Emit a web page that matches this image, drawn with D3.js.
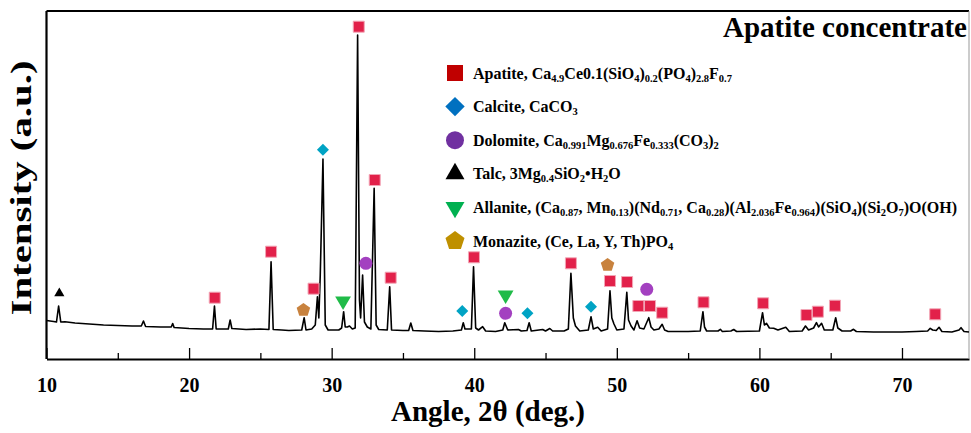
<!DOCTYPE html>
<html>
<head>
<meta charset="utf-8">
<script src="https://cdn.jsdelivr.net/npm/d3@7"></script>
<style>
  body { margin: 0; background: #fff; }
  svg { display: block; font-family: "Liberation Serif", "Times New Roman", serif; font-weight: bold; }
</style>
</head>
<body>
<div id="chart"></div>
<script>

//XRD trace: [2theta (deg.), intensity (a.u.)].
const trace = [
  [10.0, 385], [10.5, 375], [10.7, 370], [10.85, 530], [11.0, 370], [11.3, 372], [12.0, 360],
  [13.0, 350], [14.0, 340], [15.0, 335], [16.0, 330], [16.65, 330], [16.8, 380], [16.95, 325],
  [18.0, 320], [18.75, 320], [18.85, 355], [18.95, 315], [20.0, 305], [21.0, 300], [21.65, 300],
  [21.78, 530], [21.9, 300], [22.75, 300], [22.88, 390], [23.0, 305], [24.0, 295], [25.0, 300],
  [25.6, 295], [25.75, 973], [25.9, 295], [26.5, 290], [27.0, 285], [27.9, 290], [28.07, 413],
  [28.2, 290], [28.6, 300], [28.85, 340], [29.0, 623], [29.1, 410], [29.2, 840], [29.39, 2000],
  [29.55, 340], [29.75, 290], [30.5, 290], [30.7, 310], [30.84, 473], [30.95, 320], [31.1, 320],
  [31.25, 330], [31.45, 300], [31.65, 310], [31.82, 3240], [31.95, 590], [32.03, 410], [32.17, 840],
  [32.3, 370], [32.5, 320], [32.75, 300], [32.98, 1707], [33.12, 340], [33.3, 295], [33.9, 290],
  [34.07, 723], [34.2, 290], [35.0, 285], [35.4, 285], [35.55, 360], [35.7, 285], [36.5, 280],
  [37.5, 275], [38.5, 280], [39.1, 290], [39.23, 363], [39.35, 300], [39.8, 300], [39.95, 923],
  [40.1, 310], [40.3, 290], [40.59, 323], [40.8, 280], [41.5, 275], [42.0, 290], [42.14, 363],
  [42.35, 290], [43.1, 295], [43.3, 280], [43.7, 285], [43.85, 363], [44.0, 280], [44.8, 295],
  [45.0, 280], [45.3, 305], [45.5, 280], [46.3, 280], [46.6, 300], [46.78, 857], [46.95, 410],
  [47.1, 330], [47.4, 280], [48.0, 290], [48.19, 423], [48.35, 300], [48.66, 317], [48.9, 280],
  [49.35, 300], [49.52, 683], [49.65, 410], [49.8, 350], [50.0, 290], [50.5, 300], [50.7, 667],
  [50.82, 390], [51.0, 330], [51.2, 290], [51.42, 383], [51.6, 310], [51.9, 300], [52.24, 413],
  [52.4, 320], [52.6, 290], [52.95, 300], [53.18, 347], [53.35, 290], [53.6, 275], [55.0, 275],
  [55.85, 280], [56.04, 473], [56.15, 320], [56.3, 280], [57.1, 280], [57.26, 297], [57.4, 275],
  [58.0, 280], [58.2, 295], [58.4, 275], [60.0, 280], [60.22, 463], [60.35, 340], [60.5, 357],
  [60.7, 310], [61.0, 307], [61.3, 290], [61.85, 317], [62.1, 275], [63.0, 280], [63.23, 330],
  [63.45, 290], [63.8, 310], [64.0, 363], [64.15, 320], [64.36, 357], [64.55, 290], [65.15, 290],
  [65.35, 413], [65.5, 310], [65.8, 280], [66.4, 280], [66.6, 297], [66.8, 275], [68.0, 270],
  [70.0, 270], [71.0, 275], [71.8, 280], [71.98, 307], [72.15, 290], [72.4, 285], [72.6, 317],
  [72.8, 275], [73.5, 270], [74.0, 290], [74.14, 313], [74.35, 275], [74.7, 270]
];

//Phase markers: [2theta, marker height].
const apatitePeaks = [
  [21.8, 613], [25.75, 1073], [28.73, 703], [31.9, 3323], [33.02, 1790], [34.14, 813],
  [39.98, 1017], [46.78, 957], [49.52, 780], [50.72, 770], [51.51, 530], [52.33, 530],
  [53.18, 463], [56.08, 567], [60.26, 557], [63.3, 440], [64.1, 473], [65.3, 533], [72.33, 447]
];
const calcitePeaks = [[29.39, 2093], [39.16, 480], [43.73, 457], [48.19, 523]];
const dolomitePeaks = [[32.4, 957], [42.2, 457], [52.1, 697]];
const talcPeaks = [[10.9, 657]];
const allanitePeaks = [[30.8, 580], [42.2, 640]];
const monazitePeaks = [[28.02, 490], [49.35, 940]];

//Legend texts, _{..} marks a subscript.
const phaseLabels = [
  "Apatite, Ca_{4.9}Ce0.1(SiO_{4})_{0.2}(PO_{4})_{2.8}F_{0.7}",
  "Calcite, CaCO_{3}",
  "Dolomite, Ca_{0.991}Mg_{0.676}Fe_{0.333}(CO_{3})_{2}",
  "Talc, 3Mg_{0.4}SiO_{2}•H_{2}O",
  "Allanite, (Ca_{0.87}, Mn_{0.13})(Nd_{0.71}, Ca_{0.28})(Al_{2.036}Fe_{0.964})(SiO_{4})(Si_{2}O_{7})O(OH)",
  "Monazite, (Ce, La, Y, Th)PO_{4}"
];

const xTicks = [10, 15, 20, 25, 30, 35, 40, 45, 50, 55, 60, 65, 70];

//Set up the dimensions of the svg container.
const width = 971;
const height = 433;
const margin = { top: 11, right: 2, bottom: 74, left: 46.5 };

const svg = d3.select("#chart")
  .append("svg")
  .attr("width", width)
  .attr("height", height);

//Scales.
const xScale = d3.scaleLinear()
  .domain([10, 74.7])
  .range([margin.left, width - margin.right]);

const yScale = d3.scaleLinear()
  .domain([0, 3480])
  .range([height - margin.bottom, margin.top]);

//Pentagon symbol for monazite.
const symbolPentagon = {
  draw(context, size) {
    const r = Math.sqrt(size / 2.378);
    for (let i = 0; i < 5; i++) {
      const a = -Math.PI / 2 + i * 2 * Math.PI / 5;
      if (i === 0) context.moveTo(r * Math.cos(a), r * Math.sin(a));
      else context.lineTo(r * Math.cos(a), r * Math.sin(a));
    }
    context.closePath();
  }
};

//Phase table built from the arrays above.
const phases = [
  { peaks: apatitePeaks, type: d3.symbolSquare, rot: 0, size: 121, legSize: 256, color: "#e2214a", stroke: "#f2a6b6", legColor: "#c00000" },
  { peaks: calcitePeaks, type: d3.symbolSquare, rot: 45, size: 72, legSize: 188, color: "#00a3c4", stroke: "none", legColor: "#0070c0" },
  { peaks: dolomitePeaks, type: d3.symbolCircle, rot: 0, size: 133, legSize: 254, color: "#a340c0", stroke: "none", legColor: "#7030a0" },
  { peaks: talcPeaks, type: d3.symbolTriangle, rot: 0, size: 45, legSize: 156, color: "#000", stroke: "none", legColor: "#000" },
  { peaks: allanitePeaks, type: d3.symbolTriangle, rot: 180, size: 108, legSize: 156, color: "#20bb48", stroke: "none", legColor: "#00b050" },
  { peaks: monazitePeaks, type: symbolPentagon, rot: 0, size: 120, legSize: 238, color: "#c8823e", stroke: "none", legColor: "#bf9000" }
];
phases.forEach((p, i) => p.label = phaseLabels[i]);

//Bottom axis with inward ticks.
const xAxis = svg.append("g")
  .attr("transform", `translate(0,${height - margin.bottom})`)
  .call(d3.axisBottom(xScale)
    .tickValues(xTicks)
    .tickSizeInner(-11)
    .tickSizeOuter(0)
    .tickPadding(19)
    .tickFormat(d => d % 10 === 0 ? d : ""));

xAxis.select(".domain").attr("stroke-width", 2.2);
xAxis.selectAll(".tick line")
  .attr("stroke-width", 1.3)
  .attr("y2", d => d % 10 === 0 ? -11 : -6);
xAxis.selectAll(".tick text")
  .attr("font-size", 20)
  .attr("font-family", "Liberation Serif")
  .attr("font-weight", "bold")
  .attr("fill", "#000");

//Frame lines.
svg.append("line")
  .attr("x1", margin.left).attr("x2", margin.left)
  .attr("y1", margin.top).attr("y2", height - margin.bottom)
  .attr("stroke", "#000").attr("stroke-width", 2.2);
svg.append("line")
  .attr("x1", margin.left).attr("x2", width - margin.right)
  .attr("y1", margin.top).attr("y2", margin.top)
  .attr("stroke", "#000").attr("stroke-width", 2.2);
svg.append("line")
  .attr("x1", width - margin.right).attr("x2", width - margin.right)
  .attr("y1", margin.top).attr("y2", height - margin.bottom)
  .attr("stroke", "#999").attr("stroke-width", 1);

//Axis titles.
svg.append("text")
  .attr("x", 488)
  .attr("y", 421)
  .attr("text-anchor", "middle")
  .attr("font-size", 29)
  .text("Angle, 2θ (deg.)");

svg.append("text")
  .attr("transform", "translate(31,188) rotate(-90)")
  .attr("text-anchor", "middle")
  .attr("font-size", 29)
  .attr("textLength", 255)
  .attr("lengthAdjust", "spacingAndGlyphs")
  .text("Intensity (a.u.)");

//Title.
svg.append("text")
  .attr("x", 967)
  .attr("y", 37)
  .attr("text-anchor", "end")
  .attr("font-size", 29)
  .text("Apatite concentrate");

//XRD pattern line.
const line = d3.line()
  .x(d => xScale(d[0]))
  .y(d => yScale(d[1]));

svg.append("path")
  .datum(trace)
  .attr("fill", "none")
  .attr("stroke", "#000")
  .attr("stroke-width", 1.6)
  .attr("stroke-linejoin", "round")
  .attr("d", line);

//Phase markers on the peaks.
phases.forEach(p => {
  svg.append("g")
    .selectAll("path")
    .data(p.peaks)
    .enter()
    .append("path")
    .attr("transform", d => `translate(${xScale(d[0])},${yScale(d[1])}) rotate(${p.rot})`)
    .attr("d", d3.symbol().type(p.type).size(p.size))
    .attr("fill", p.color)
    .attr("stroke", p.stroke)
    .attr("stroke-width", 1);
});

//Legend.
const legend = svg.append("g");
const rowY = d3.scaleLinear().domain([0, 5]).range([73, 241]);

phases.forEach((p, i) => {
  legend.append("path")
    .attr("transform", `translate(455,${rowY(i)}) rotate(${p.rot})`)
    .attr("d", d3.symbol().type(p.type).size(p.legSize))
    .attr("fill", p.legColor);

  const t = legend.append("text")
    .attr("x", 473)
    .attr("y", rowY(i) + 5.5)
    .attr("font-size", 16);

  //Split the label into normal text and subscripts.
  let shifted = false;
  p.label.split(/(_\{[^}]*\})/).filter(s => s.length).forEach(s => {
    const sub = s.startsWith("_{");
    const span = t.append("tspan").text(sub ? s.slice(2, -1) : s);
    if (sub) {
      span.attr("font-size", 10.5);
      if (!shifted) span.attr("dy", 3);
      shifted = true;
    } else if (shifted) {
      span.attr("dy", -3);
      shifted = false;
    }
  });
});

</script>
</body>
</html>
